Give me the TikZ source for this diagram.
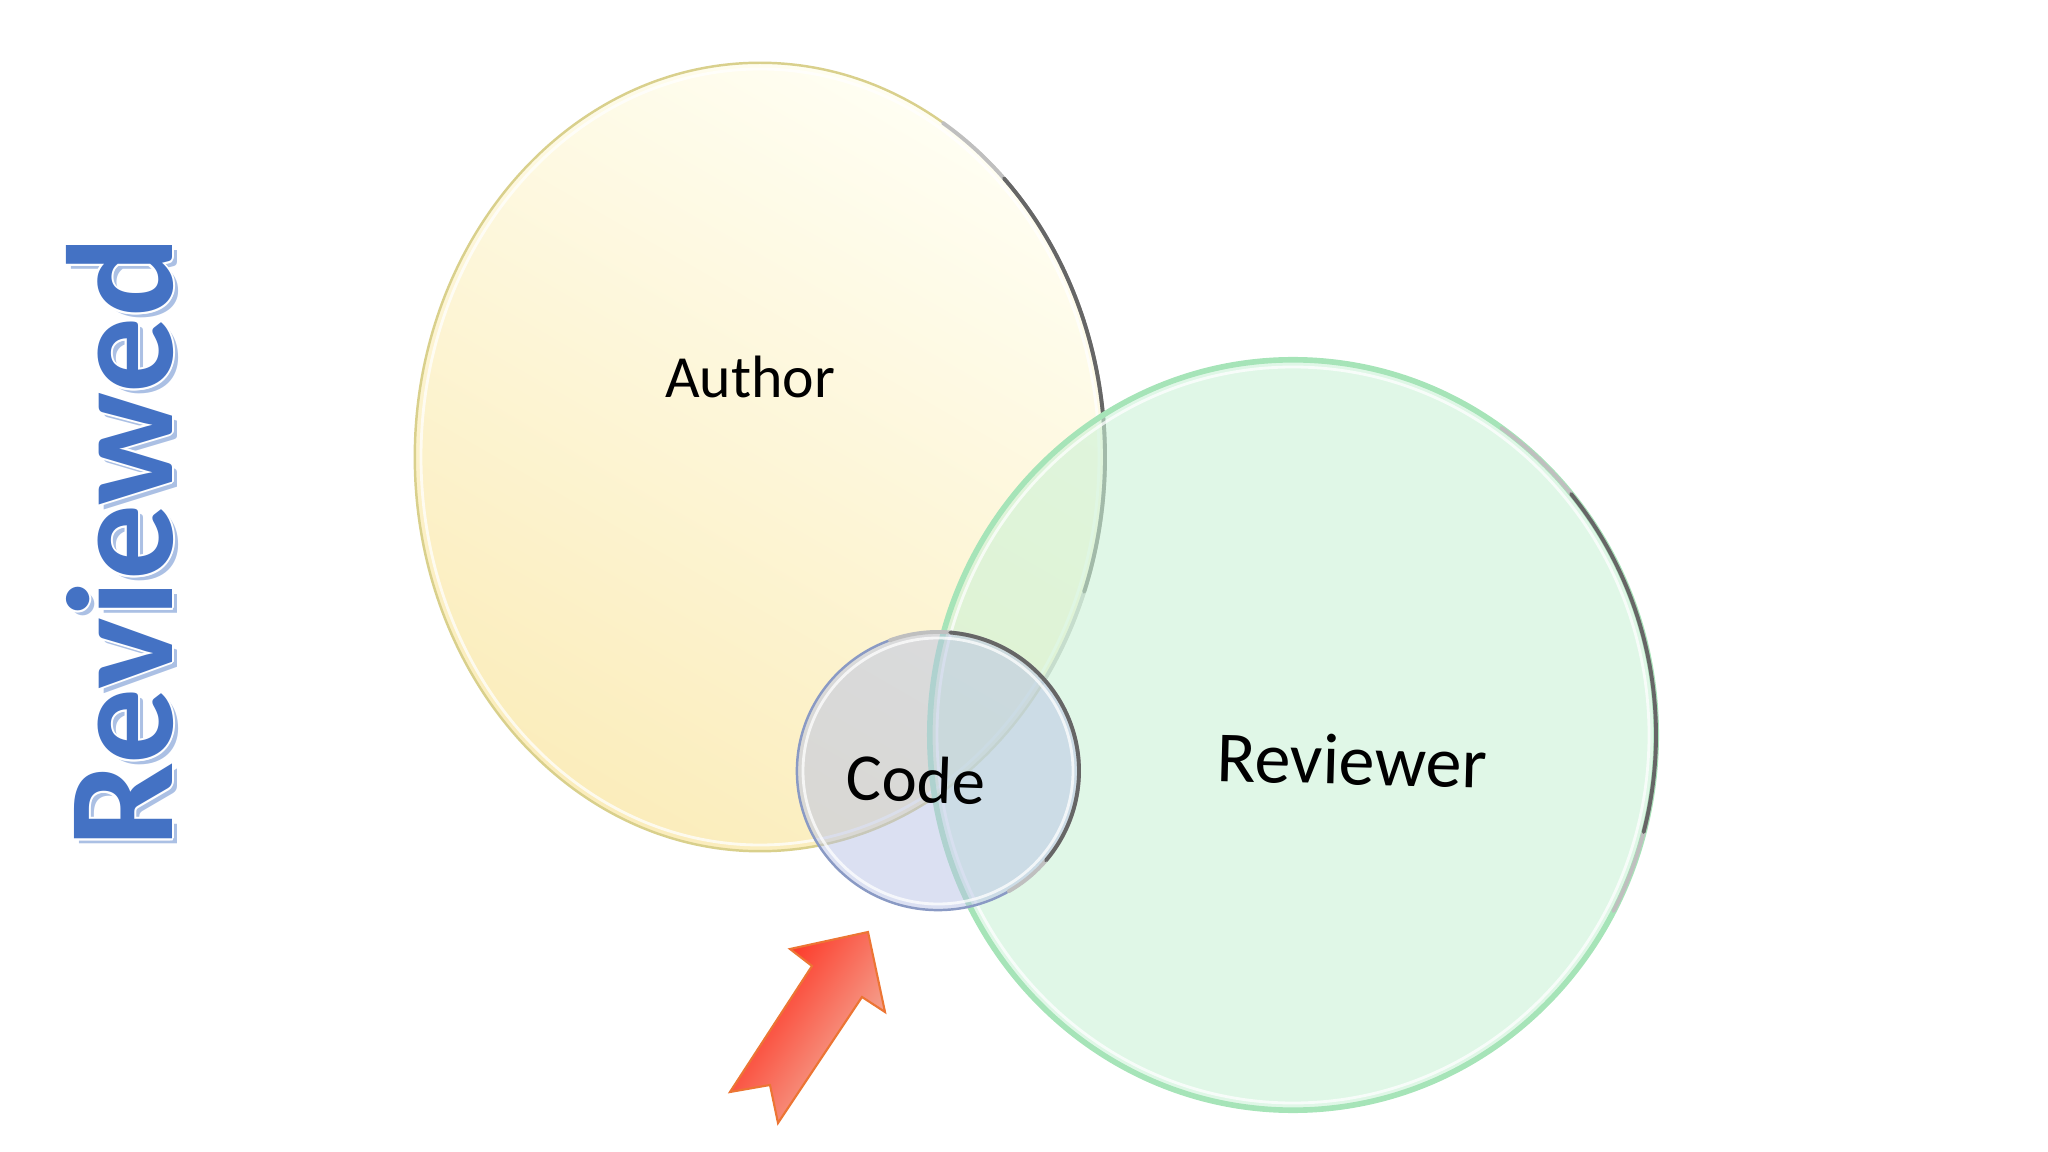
\documentclass[tikz,border=0pt]{standalone}
\usepackage{fontspec}
\setmainfont{Carlito}
\usepackage{xcolor}
\usetikzlibrary{shapes.geometric,positioning}

\definecolor{authorfill}{HTML}{FBEDBC}
\definecolor{authorlight}{HTML}{FFFEF2}
\definecolor{authorrim}{HTML}{D9D08C}
\definecolor{reviewerfill}{HTML}{CBF2D7}
\definecolor{reviewerrim}{HTML}{A6E4B8}
\definecolor{codefill}{HTML}{B8C2E6}
\definecolor{coderim}{HTML}{8A9AC4}
\definecolor{reviewedblue}{HTML}{4472C4}
\definecolor{arrowred}{HTML}{FF2212}
\definecolor{arrowpale}{HTML}{F2BCA8}
\definecolor{arrowrim}{HTML}{EC7534}

\begin{document}
\begin{tikzpicture}[
  x=0.01cm, y=-0.01cm,
  setbox/.style={ellipse, inner sep=0pt, line width=0.7pt},
  rim/.style={line width=1.1pt, black!60, line cap=round},
  softrim/.style={line width=1.1pt, black!25, line cap=round},
  shine/.style={line width=0.8pt, white, opacity=0.75},
  setlabel/.style={inner sep=0pt, text=black, font=\fontsize{17pt}{20pt}\selectfont},
  bigword/.style={inner sep=0pt, rotate=90, font=\fontsize{43pt}{50pt}\selectfont\bfseries}
]
\useasboundingbox (0,0) rectangle (2048,1152);

% Author set
\node[setbox, top color=authorlight, bottom color=authorfill, shading angle=-30,
  draw=authorrim, minimum width=6.9cm, minimum height=7.88cm] (author) at (760,457) {};
\draw[shine] (author.center) ellipse[x radius=339, y radius=388];
\draw[softrim] (author.center) ++(-58:345 and 394) arc[start angle=-58, end angle=35, x radius=345, y radius=394];
\draw[rim] (author.center) ++(-45:345 and 394) arc[start angle=-45, end angle=20, x radius=345, y radius=394];

% Reviewer set
\node[setbox, fill=reviewerfill, fill opacity=0.6, draw=reviewerrim, line width=1.6pt,
  minimum width=7.26cm, minimum height=7.5cm] (reviewer) at (1293,735) {};
\draw[shine] (reviewer.center) ellipse[x radius=356, y radius=368];
\draw[softrim] (reviewer.center) ++(-55:363 and 375) arc[start angle=-55, end angle=28, x radius=363, y radius=375];
\draw[rim] (reviewer.center) ++(-40:363 and 375) arc[start angle=-40, end angle=15, x radius=363, y radius=375];

% Code in the middle
\node[setbox, fill=codefill, fill opacity=0.5, draw=coderim,
  minimum width=2.82cm, minimum height=2.78cm] (code) at (938,771) {};
\draw[shine] (code.center) ellipse[x radius=135, y radius=133];
\draw[softrim] (code.center) ++(-110:141 and 139) arc[start angle=-110, end angle=60, x radius=141, y radius=139];
\draw[rim] (code.center) ++(-85:141 and 139) arc[start angle=-85, end angle=40, x radius=141, y radius=139];

% Labels
\node[setlabel] (authortext) at (750,377) {Author};
\node[setlabel, font=\fontsize{20.5pt}{24pt}\selectfont, rotate=-1.5] (reviewertext) at (1352,760) {Reviewer};
\node[setlabel, font=\fontsize{19pt}{23pt}\selectfont, rotate=-2] (codetext) at (916,779) {Code};

% Title on the left
\node[bigword, text=reviewedblue!45!white] (reviewedshadow) at (125,547) {Reviewed};
\foreach \dx/\dy in {-2/0, 2/0, 0/-2, 0/2, -1.5/-1.5, 1.5/1.5, -1.5/1.5, 1.5/-1.5}
  \node[bigword, text=white] at (120+\dx,542+\dy) {Reviewed};
\node[bigword, text=reviewedblue] (reviewed) at (120,542) {Reviewed};

% Arrow pointing at the code
\coordinate (tip) at (868,932);
\coordinate (rbarb) at (885,1012);
\coordinate (rneck) at (862,997);
\coordinate (rtail) at (778,1123);
\coordinate (notch) at (770,1085);
\coordinate (ltail) at (730,1092);
\coordinate (lneck) at (812,966);
\coordinate (lbarb) at (790,949);
\draw[arrowrim, line width=0.6pt, top color=arrowred, bottom color=arrowpale, shading angle=56]
  (tip) -- (rbarb) -- (rneck) -- (rtail) -- (notch) -- (ltail) -- (lneck) -- (lbarb) -- cycle;

\end{tikzpicture}
\end{document}
